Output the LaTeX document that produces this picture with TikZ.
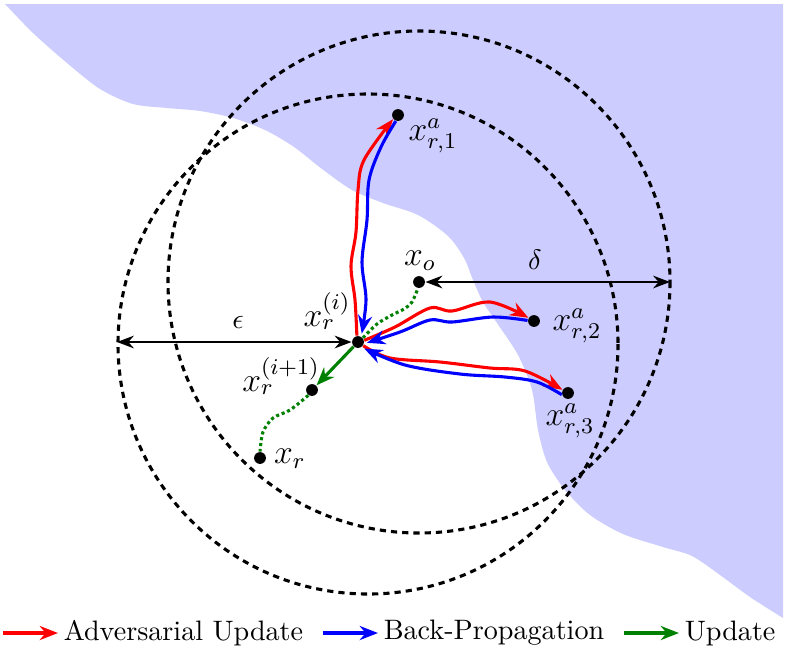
\documentclass[tikz,border=0pt]{standalone}
\usepackage{amsmath}
\usepackage{tikz}
\usetikzlibrary{arrows.meta, positioning}

\tikzset{
  spoint/.style={circle, fill=black, inner sep=0pt, minimum size=4.2pt},
  lbl/.style={font=\large, inner sep=0pt},
  legtext/.style={right, text=black, inner sep=1.5pt},
  ball/.style={black, line width=1.1pt, dash pattern=on 2.2pt off 1.8pt},
  adv/.style={red, line width=1.1pt, -{Stealth[length=6.5pt, width=5pt]}},
  bp/.style={blue, line width=1.1pt, -{Stealth[length=6.5pt, width=5pt]}},
  upd/.style={green!50!black, line width=1.1pt, -{Stealth[length=6.5pt, width=5pt]}},
  trail/.style={green!50!black, line width=1.1pt, densely dotted},
  radius arrow/.style={black, thick, {Stealth[length=6pt, width=4.5pt]}-{Stealth[length=6pt, width=4.5pt]}},
  region/.style={fill=blue!20},
}

\begin{document}
\begin{tikzpicture}[x=0.0125cm, y=-0.0125cm]
    \useasboundingbox (0,0) rectangle (788,652);

    % adversarial region
    \fill[region] plot[smooth, tension=0.5] coordinates {(5,4) (33,33) (67,63) (100,89) (133,104) (167,108) (200,111) (233,118) (265,130) (294,147) (322,169) (352,190) (383,203) (418,215) (448,236) (464,258) (473,280) (483,302) (497,323) (518,355) (532,390) (538,430) (547,462) (565,490) (590,515) (623,534) (663,547) (692,556) (720,575) (750,597) (783,618)} -- (783,4) -- cycle;

    % balls
    \coordinate (cA) at (368,344);
    \coordinate (cB) at (419,282);
    \draw[ball] (cA) circle[radius=250];
    \draw[ball] (cB) circle[radius=251];

    % samples
    \node[spoint] (xri) at (358,342) {};
    \node[spoint] (xri1) at (312,390) {};
    \node[spoint] (xr) at (260,458) {};
    \node[spoint] (xo) at (cB) {};
    \node[spoint] (xa1) at (398,115) {};
    \node[spoint] (xa2) at (534,321) {};
    \node[spoint] (xa3) at (568,393) {};

    \node[lbl] (lxri) at (327,311) {$x_r^{(i)}$};
    \node[lbl] (lxri1) at (281,376) {$x_r^{(i+1)}$};
    \node[lbl] (lxr) at (290,459) {$x_r$};
    \node[lbl] (lxo) at (420,261) {$x_o$};
    \node[lbl] (lxa1) at (433,136) {$x_{r,1}^a$};
    \node[lbl] (lxa2) at (577,326) {$x_{r,2}^a$};
    \node[lbl] (lxa3) at (570,421) {$x_{r,3}^a$};

    % radii
    \coordinate (epsend) at (117,342);
    \coordinate (deltaend) at (670,282);
    \draw[radius arrow] (xri) -- (epsend);
    \draw[radius arrow] (xo) -- (deltaend);
    \node (leps) at (238,322) {$\epsilon$};
    \node (ldelta) at (535,260) {$\delta$};

    % adversarial updates and back-propagation
    \draw[adv] plot[smooth, tension=0.55] coordinates {(xri.100) (355,300) (351,266) (356,232) (358,190) (364,160) (xa1.220)};
    \draw[bp, shorten >=1pt] plot[smooth, tension=0.55] coordinates {(xa1.250) (381,147) (369,180) (367,220) (362,262) (366,300) (xri.60)};
    \draw[adv] plot[smooth, tension=0.55] coordinates {(xri.15) (395,327) (430,308) (452,311) (490,302) (xa2.150)};
    \draw[bp, shorten >=1pt] plot[smooth, tension=0.55] coordinates {(xa2.175) (493,317) (452,322) (430,320) (400,332) (xri.-15)};
    \draw[adv] plot[smooth, tension=0.55] coordinates {(xri.-35) (390,358) (440,362) (490,368) (525,371) (xa3.150)};
    \draw[bp, shorten >=1pt] plot[smooth, tension=0.55] coordinates {(xa3.195) (537,382) (505,377) (460,374) (405,365) (xri.-55)};

    % update and trajectory
    \draw[upd] (xri) -- (xri1);
    \draw[trail] plot[smooth] coordinates {(xri.40) (377,324) (392,315) (404,309) (412,302) (xo.260)};
    \draw[trail] plot[smooth] coordinates {(xri1.235) (290,410) (273,418) (263,432) (xr.90)};

    % legend
    \coordinate (legend) at (3,633);
    \draw[adv] (legend) -- ++(55,0) node[legtext] (tadv) {Adversarial Update};
    \draw[bp] ([xshift=5pt]tadv.east) -- ++(55,0) node[legtext] (tbp) {Back-Propagation};
    \draw[upd] ([xshift=5pt]tbp.east) -- ++(55,0) node[legtext] (tupd) {Update};
\end{tikzpicture}
\end{document}
